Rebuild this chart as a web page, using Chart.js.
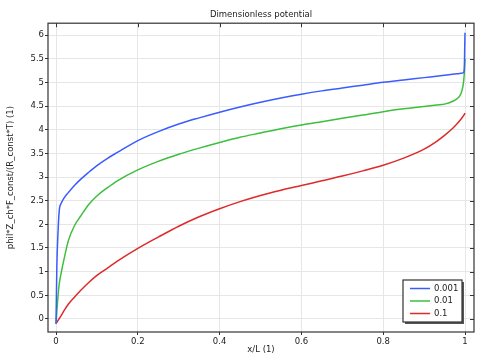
<!DOCTYPE html>
<html>
<head>
<meta charset="utf-8">
<script src="https://cdn.jsdelivr.net/npm/chart.js@4/dist/chart.umd.min.js"></script>
<style>
  html, body { margin: 0; padding: 0; background: #fff; }
  #wrap { width: 482px; height: 363px; }
</style>
</head>
<body>
<div id="wrap"><canvas id="grafico"></canvas></div>
<script>
// valores (x/L e potencial adimensional)
const xPos = [0, 0.002, 0.005, 0.008, 0.0125, 0.02, 0.03, 0.045, 0.06, 0.08, 0.1, 0.125, 0.15,
  0.2, 0.25, 0.3, 0.35, 0.4, 0.45, 0.5, 0.55, 0.6, 0.65, 0.7, 0.75, 0.8, 0.85, 0.9,
  0.93, 0.95, 0.97, 0.98, 0.99, 0.995, 0.998, 1];
const serieLabels = ['0.001', '0.01', '0.1'];
const phi0001 = [-0.1, 1.1, 1.85, 2.3, 2.44, 2.56, 2.67, 2.82, 2.95, 3.1, 3.24, 3.39, 3.52,
  3.77, 3.96, 4.12, 4.25, 4.37, 4.48, 4.58, 4.67, 4.75, 4.82, 4.88, 4.94, 5.0, 5.05, 5.1,
  5.13, 5.15, 5.17, 5.18, 5.19, 5.2, 5.25, 6.05];
const phi001 = [-0.1, 0.15, 0.5, 0.75, 0.97, 1.28, 1.65, 1.97, 2.17, 2.42, 2.6, 2.77, 2.92,
  3.15, 3.33, 3.48, 3.61, 3.73, 3.84, 3.93, 4.02, 4.1, 4.17, 4.24, 4.31, 4.38, 4.44, 4.49,
  4.52, 4.54, 4.6, 4.65, 4.76, 4.92, 5.15, 5.5];
const phi01 = [-0.1, -0.07, -0.03, 0.01, 0.07, 0.18, 0.31, 0.46, 0.6, 0.77, 0.92, 1.07, 1.22,
  1.49, 1.73, 1.96, 2.16, 2.33, 2.48, 2.61, 2.72, 2.82, 2.92, 3.02, 3.13, 3.25, 3.4, 3.59,
  3.75, 3.88, 4.03, 4.12, 4.22, 4.28, 4.32, 4.35];
const cores = ['#3a5cff', '#3cbf3c', '#dd2a2a'];

const fonte = { family: 'DejaVu Sans', size: 8.5 };
const pontos = ys => xPos.map((x, i) => ({ x: x, y: ys[i] }));

// moldura, marcas internas e legenda no estilo COMSOL
const molduraPlugin = {
    id: 'moldura',
    afterDraw(chart) {
        const ctx = chart.ctx;
        const a = chart.chartArea;
        ctx.save();
        ctx.strokeStyle = '#333';
        ctx.lineWidth = 1.2;
        ctx.strokeRect(a.left, a.top, a.right - a.left, a.bottom - a.top);
        ctx.lineWidth = 1;
        ctx.beginPath();
        chart.scales.x.ticks.forEach(t => {
            const px = Math.round(chart.scales.x.getPixelForValue(t.value)) + 0.5;
            ctx.moveTo(px, a.top);
            ctx.lineTo(px, a.top + 4);
        });
        chart.scales.y.ticks.forEach(t => {
            const py = Math.round(chart.scales.y.getPixelForValue(t.value)) + 0.5;
            ctx.moveTo(a.right, py);
            ctx.lineTo(a.right - 4, py);
        });
        ctx.stroke();

        // legenda
        const w = 59, h = 42;
        const lx = a.right - 12 - w, ly = a.bottom - 10 - h;
        ctx.fillStyle = '#555';
        ctx.fillRect(lx + 2, ly + 2, w, h);
        ctx.fillStyle = '#fff';
        ctx.fillRect(lx, ly, w, h);
        ctx.strokeStyle = '#333';
        ctx.lineWidth = 1.2;
        ctx.strokeRect(lx, ly, w, h);
        ctx.font = '8.5px "DejaVu Sans"';
        ctx.textBaseline = 'middle';
        chart.data.datasets.forEach((ds, i) => {
            const ry = ly + 8.5 + i * 12.5;
            ctx.strokeStyle = ds.borderColor;
            ctx.lineWidth = 1.5;
            ctx.beginPath();
            ctx.moveTo(lx + 7, ry);
            ctx.lineTo(lx + 27, ry);
            ctx.stroke();
            ctx.fillStyle = '#222';
            ctx.fillText(ds.label, lx + 31, ry);
        });
        ctx.restore();
    }
};

new Chart(document.getElementById('grafico').getContext('2d'), {
    type: 'line',
    data: {
        datasets: [phi0001, phi001, phi01].map((ys, i) => ({
            label: serieLabels[i],
            data: pontos(ys),
            borderColor: cores[i],
            borderWidth: 1.5,
            pointRadius: 0,
            fill: false,
            cubicInterpolationMode: 'monotone'
        }))
    },
    options: {
        responsive: true,
        maintainAspectRatio: false,
        animation: false,
        layout: { padding: { right: 8, top: 0, left: 0, bottom: 0 } },
        plugins: {
            legend: { display: false },
            tooltip: { enabled: false },
            title: {
                display: true,
                text: 'Dimensionless potential',
                fullSize: false,
                color: '#222',
                font: { family: 'DejaVu Sans', size: 8.5, weight: 'normal' },
                padding: { top: 10, bottom: 3 }
            }
        },
        scales: {
            x: {
                type: 'linear',
                min: -0.0196,
                max: 1.022,
                afterFit: s => { s.height = 31; },
                border: { display: false },
                grid: { color: '#e6e6e6', tickColor: '#333', tickLength: 3 },
                ticks: {
                    stepSize: 0.2,
                    includeBounds: false,
                    maxRotation: 0,
                    padding: 2,
                    color: '#222',
                    font: fonte,
                    callback: v => String(parseFloat(v.toFixed(1)))
                },
                title: {
                    display: true,
                    text: 'x/L (1)',
                    color: '#222',
                    font: fonte,
                    padding: { top: 0, bottom: 8 }
                }
            },
            y: {
                min: -0.275,
                max: 6.25,
                afterFit: s => { s.width = 48; },
                border: { display: false },
                grid: { color: '#e6e6e6', tickColor: '#333', tickLength: 3 },
                ticks: {
                    stepSize: 0.5,
                    includeBounds: false,
                    padding: 1,
                    color: '#222',
                    font: fonte,
                    callback: v => String(parseFloat(v.toFixed(1)))
                },
                title: {
                    display: true,
                    text: 'phil*Z_ch*F_const/(R_const*T) (1)',
                    color: '#222',
                    font: fonte,
                    padding: { top: 6, bottom: 0 }
                }
            }
        }
    },
    plugins: [molduraPlugin]
});
</script>
</body>
</html>
